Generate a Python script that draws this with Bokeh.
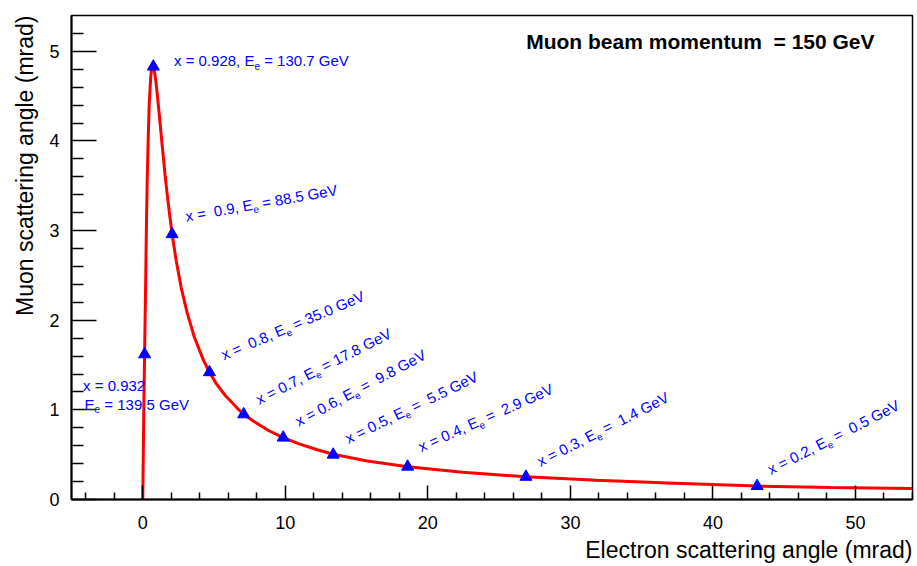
import math
from bokeh.plotting import figure
from bokeh.models import Label, FixedTicker, Range1d, Title
from bokeh.embed import file_html
from bokeh.resources import INLINE

# ---------------- data ----------------
# kinematic curve: electron angle (mrad) vs muon angle (mrad)
curve_theta_e = [0.00, 0.046, 0.079, 0.13, 0.21, 0.26, 0.31, 0.39, 0.45, 0.56, 0.61, 0.68,
                 0.74, 0.82, 0.93, 1.03, 1.16, 1.32, 1.56, 1.71, 1.86, 2.06, 2.34, 2.70,
                 3.12, 3.62, 4.27, 4.68, 5.17, 5.79, 6.62, 7.08, 7.80, 8.82, 9.85, 10.97,
                 12.24, 13.36, 15.75, 18.58, 22.44, 26.88, 31.85, 36.82, 43.10, 48.24,
                 54.00]
curve_theta_mu = [0.00, 0.63, 1.08, 1.65, 2.50, 3.10, 3.55, 4.08, 4.40, 4.72, 4.79, 4.82,
                  4.83, 4.78, 4.65, 4.50, 4.29, 4.02, 3.63, 3.41, 3.21, 2.96, 2.67, 2.36,
                  2.08, 1.81, 1.55, 1.42, 1.29, 1.16, 1.02, 0.95, 0.87, 0.77, 0.69, 0.62,
                  0.555, 0.505, 0.43, 0.366, 0.303, 0.253, 0.214, 0.185, 0.15, 0.135,
                  0.122]

# marked points
pt_x = [0.932, 0.928, 0.9, 0.8, 0.7, 0.6, 0.5, 0.4, 0.3, 0.2]
pt_Ee = [139.5, 130.7, 88.5, 35.0, 17.8, 9.8, 5.5, 2.9, 1.4, 0.5]
pt_theta_e = [0.13, 0.74, 2.06, 4.68, 7.08, 9.85, 13.36, 18.58, 26.88, 43.10]
pt_theta_mu = [1.62, 4.83, 2.96, 1.42, 0.95, 0.69, 0.50, 0.366, 0.253, 0.15]

x_major_ticks = [0, 10, 20, 30, 40, 50]
x_minor_ticks = [v for v in range(-4, 55, 2) if v % 10 != 0]
y_major_ticks = [0, 1, 2, 3, 4, 5]
y_minor_ticks = [round(0.2 * i, 1) for i in range(0, 27) if i % 5 != 0]

NB = "\u00a0"
title_text = "Muon beam momentum " + NB + "= 150 GeV"
x_title = "Electron scattering angle (mrad)"
y_title = "Muon scattering angle (mrad)"

# annotation texts: (prefix before subscript "e", suffix after it)
ann_pre = ["x = 0.928, E", "x =" + NB + " 0.9, E", "x =" + NB + " 0.8, E", "x = 0.7, E",
           "x = 0.6, E", "x = 0.5, E", "x = 0.4, E", "x = 0.3, E", "x = 0.2, E"]
ann_post = [NB + "= 130.7 GeV", NB + "= 88.5 GeV", NB + "= 35.0 GeV", NB + "= 17.8 GeV",
            NB + "=" + NB + " 9.8 GeV", NB + "=" + NB + " 5.5 GeV",
            NB + "=" + NB + " 2.9 GeV", NB + "=" + NB + " 1.4 GeV",
            NB + "=" + NB + " 0.5 GeV"]

# ---------------- layout ----------------
FONT = "Liberation Sans"
BLUE = "#0000ff"

ann_pos_x = [2.19, 3.00, 5.55, 8.00, 10.76, 14.26, 19.38, 27.72, 43.90]
ann_pos_y = [4.895, 3.16, 1.61, 1.108, 0.866, 0.673, 0.584, 0.416, 0.327]
ann_angle = [0, 10, 23, 27, 28, 26, 24, 27, 27]

W = {' ': 278, NB: 278, '=': 584, 'x': 500, '.': 278, ',': 278, 'E': 667, 'e': 556,
     'G': 778, 'V': 667}
for d in "0123456789":
    W[d] = 556


def tw(s, size):
    return sum(W.get(c, 556) for c in s) / 1000.0 * size


p = figure(width=917, height=566, output_backend="svg", toolbar_location=None,
           x_range=Range1d(-5, 54), y_range=Range1d(0, 5.4),
           min_border_left=70, min_border_right=5, min_border_top=15,
           min_border_bottom=67)
p.background_fill_color = "white"
p.border_fill_color = "white"
p.outline_line_color = "black"
p.outline_line_width = 1.5
p.grid.visible = False

for ax in (p.xaxis[0], p.yaxis[0]):
    ax.axis_line_color = "black"
    ax.axis_line_width = 2
    ax.major_tick_line_color = "black"
    ax.minor_tick_line_color = "black"
    ax.major_tick_line_width = 1.5
    ax.minor_tick_line_width = 1.5
    ax.major_tick_out = 0
    ax.minor_tick_out = 0
    ax.major_label_text_font = FONT
    ax.major_label_text_font_size = "18px"
    ax.major_label_text_color = "black"

p.xaxis[0].ticker = FixedTicker(ticks=x_major_ticks, minor_ticks=x_minor_ticks)
p.yaxis[0].ticker = FixedTicker(ticks=y_major_ticks, minor_ticks=y_minor_ticks)
p.xaxis[0].major_tick_in = 14
p.xaxis[0].minor_tick_in = 7
p.yaxis[0].major_tick_in = 25
p.yaxis[0].minor_tick_in = 12
p.xaxis[0].major_label_standoff = 16
p.yaxis[0].major_label_standoff = 12

p.line(curve_theta_e, curve_theta_mu, line_color="#ff0000", line_width=3)
p.scatter(pt_theta_e, pt_theta_mu, marker="triangle", size=12,
          fill_color=BLUE, line_color=BLUE)


def add_sub_text(x, y, pre, post, angle_deg, size=15, sub_size=10, drop=5.0):
    a = math.radians(angle_deg)
    c, s = math.cos(a), math.sin(a)
    w1 = tw(pre, size)
    ws = tw("e", sub_size)
    common = dict(x=x, y=y, angle=a, text_color=BLUE, text_font=FONT,
                  text_baseline="alphabetic", text_align="left")
    if pre:
        p.add_layout(Label(text=pre, text_font_size=f"{size}px", **common))
    p.add_layout(Label(text="e", text_font_size=f"{sub_size}px",
                       x_offset=w1 * c + drop * s, y_offset=w1 * s - drop * c, **common))
    p.add_layout(Label(text=post, text_font_size=f"{size}px",
                       x_offset=(w1 + ws) * c, y_offset=(w1 + ws) * s, **common))


for i in range(len(ann_pre)):
    add_sub_text(ann_pos_x[i], ann_pos_y[i], ann_pre[i], ann_post[i], ann_angle[i])

# the x = 0.932 annotation (two lines)
p.add_layout(Label(x=-4.19, y=1.276, text=f"x = {pt_x[0]}", text_color=BLUE,
                   text_font=FONT, text_font_size="15px", text_baseline="alphabetic"))
add_sub_text(-4.08, 1.06, "E", NB + f"= {pt_Ee[0]} GeV", 0)

# header text
p.add_layout(Label(x=26.9, y=5.11, text=title_text, text_color="black",
                   text_font=FONT, text_font_size="21px", text_font_style="bold",
                   text_baseline="alphabetic"))

# axis titles
p.add_layout(Title(text=x_title, align="right", text_font=FONT, text_font_size="23px",
                   text_font_style="normal", text_color="black", standoff=6), "below")
p.add_layout(Title(text=y_title, align="right", text_font=FONT, text_font_size="23px",
                   text_font_style="normal", text_color="black", standoff=18), "left")

open("out.html", "w").write(file_html(p, INLINE))
